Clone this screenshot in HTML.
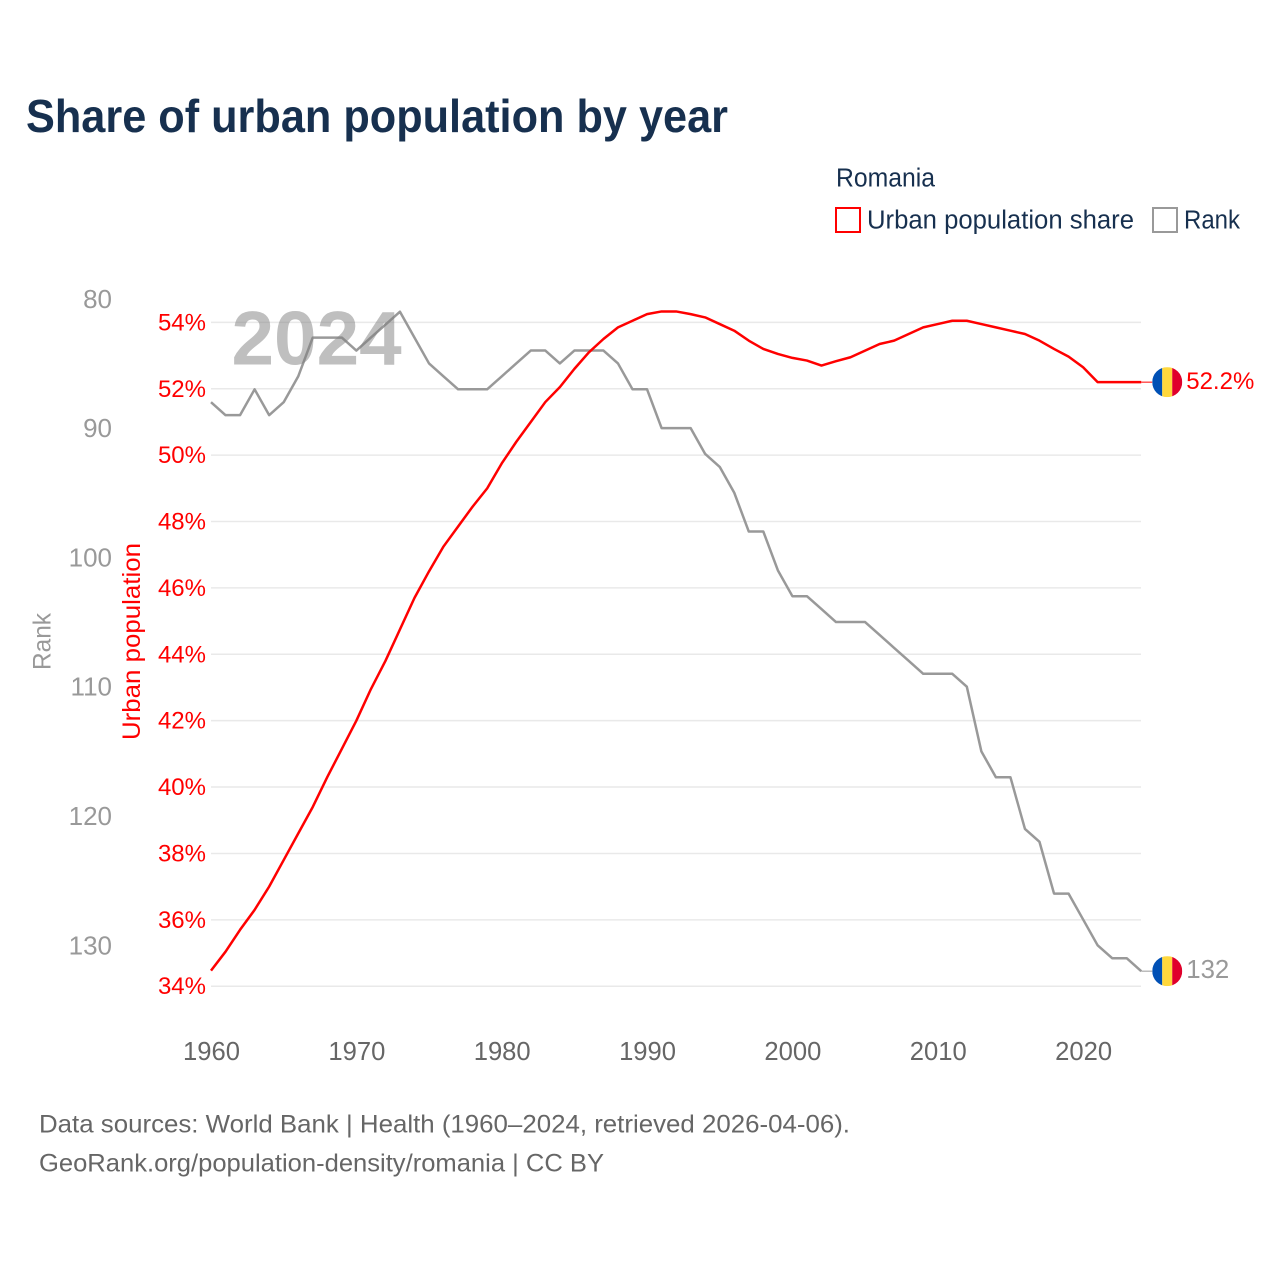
<!DOCTYPE html>
<html lang="en">
<head>
<meta charset="utf-8">
<title>Share of urban population by year</title>
<style>
html,body{margin:0;padding:0;background:#fff;}
svg{display:block;font-family:"Liberation Sans",Arial,sans-serif;}
</style>
</head>
<body>
<svg id="chart" xmlns="http://www.w3.org/2000/svg" width="1280" height="1280" viewBox="0 0 1280 1280">
  <rect x="0" y="0" width="1280" height="1280" fill="#ffffff"/>
  <text x="26" y="132" font-size="46" font-weight="700" fill="#17304f" textLength="702" lengthAdjust="spacingAndGlyphs">Share of urban population by year</text>

  <g>
    <text x="836" y="186.500" font-size="25.500" fill="#17304f" textLength="99" lengthAdjust="spacingAndGlyphs">Romania</text>
    <rect x="836" y="208" width="24" height="24" fill="none" stroke="#ff0000" stroke-width="2"/>
    <text x="867" y="228.500" font-size="25.500" fill="#17304f" textLength="267" lengthAdjust="spacingAndGlyphs">Urban population share</text>
    <rect x="1153" y="208" width="24" height="24" fill="none" stroke="#999999" stroke-width="2"/>
    <text x="1184" y="228.500" font-size="25.500" fill="#17304f" textLength="56" lengthAdjust="spacingAndGlyphs">Rank</text>
  </g>

  <g id="grid"></g>
  <g id="share-ticks"></g>
  <g id="rank-ticks"></g>
  <g id="year-ticks"></g>

  <text transform="translate(50.500,641.500) rotate(-90)" text-anchor="middle" font-size="25" fill="#999999" textLength="57" lengthAdjust="spacingAndGlyphs">Rank</text>
  <text transform="translate(140,641.500) rotate(-90)" text-anchor="middle" font-size="25" fill="#ff0000" textLength="197" lengthAdjust="spacingAndGlyphs">Urban population</text>

  <g id="series"></g>

  <text x="231.500" y="364.500" font-size="76.500" font-weight="700" fill="#808080" fill-opacity="0.5">2024</text>

  <g id="end-markers"></g>

  <text x="39" y="1132.500" font-size="25" fill="#666666" textLength="811" lengthAdjust="spacingAndGlyphs">Data sources: World Bank | Health (1960–2024, retrieved 2026-04-06).</text>
  <text x="39" y="1171.500" font-size="25" fill="#666666" textLength="565" lengthAdjust="spacingAndGlyphs">GeoRank.org/population-density/romania | CC BY</text>
</svg>
<script>
const years = [1960,1961,1962,1963,1964,1965,1966,1967,1968,1969,1970,1971,1972,1973,1974,1975,1976,1977,1978,1979,1980,1981,1982,1983,1984,1985,1986,1987,1988,1989,1990,1991,1992,1993,1994,1995,1996,1997,1998,1999,2000,2001,2002,2003,2004,2005,2006,2007,2008,2009,2010,2011,2012,2013,2014,2015,2016,2017,2018,2019,2020,2021,2022,2023,2024];
const urbanShare = [34.47,35.04,35.7,36.3,37.0,37.8,38.6,39.4,40.3,41.15,42.0,42.95,43.8,44.75,45.7,46.5,47.25,47.85,48.45,49.0,49.75,50.4,51.0,51.6,52.05,52.6,53.1,53.5,53.85,54.05,54.25,54.33,54.33,54.25,54.15,53.95,53.75,53.45,53.2,53.05,52.93,52.85,52.7,52.83,52.95,53.15,53.35,53.45,53.65,53.85,53.95,54.05,54.05,53.95,53.85,53.75,53.65,53.45,53.2,52.97,52.65,52.2,52.2,52.2,52.2];
const rank = [88,89,89,87,89,88,86,83,83,83,84,83,82,81,83,85,86,87,87,87,86,85,84,84,85,84,84,84,85,87,87,90,90,90,92,93,95,98,98,101,103,103,104,105,105,105,106,107,108,109,109,109,110,115,117,117,121,122,126,126,128,130,131,131,132];
const shareTicks = [34,36,38,40,42,44,46,48,50,52,54];
const rankTicks = [80,90,100,110,120,130];
const yearTicks = [1960,1970,1980,1990,2000,2010,2020];

const SVG_NS = 'http://www.w3.org/2000/svg';
const xScale = function (year) { return 211 + (year - 1960) * 14.535; };
const shareScale = function (v) { return 986.2 - (v - 34) * 33.19; };
const rankScale = function (v) { return 298.8 + (v - 80) * 12.93; };

function make(tag, attrs, parent, text) {
  const el = document.createElementNS(SVG_NS, tag);
  Object.keys(attrs).forEach(function (k) { el.setAttribute(k, attrs[k]); });
  if (text !== undefined) el.textContent = text;
  parent.appendChild(el);
  return el;
}

const gridGroup = document.getElementById('grid');
const shareGroup = document.getElementById('share-ticks');
const rankGroup = document.getElementById('rank-ticks');
const yearGroup = document.getElementById('year-ticks');
const seriesGroup = document.getElementById('series');
const markerGroup = document.getElementById('end-markers');

shareTicks.forEach(function (t) {
  const y = shareScale(t);
  const line = make('line', {x1: 211, x2: 1141, y1: y, y2: y, stroke: '#e9e9e9', 'stroke-width': 1.5}, gridGroup);
  
  
  const label = make('text', {x: 206, y: y + 8, 'text-anchor': 'end', 'font-size': 24, fill: '#ff0000'}, shareGroup, t + '%');
  
  
});

rankTicks.forEach(function (t) {
  const label = make('text', {x: 112, y: rankScale(t) + 9, 'text-anchor': 'end', 'font-size': 26, fill: '#999999'}, rankGroup, String(t));
  
  
});

yearTicks.forEach(function (t) {
  const label = make('text', {x: xScale(t) + 0.5, y: 1060, 'text-anchor': 'middle', 'font-size': 25.6, fill: '#666666'}, yearGroup, String(t));
  
  
});

function linePoints(values, scale) {
  return values.map(function (v, i) {
    return xScale(years[i]).toFixed(2) + ',' + scale(v).toFixed(2);
  }).join(' ');
}

const rankLine = make('polyline', {points: linePoints(rank, rankScale), fill: 'none', stroke: '#999999', 'stroke-width': 2.5, 'stroke-linejoin': 'round'}, seriesGroup);



const shareLine = make('polyline', {points: linePoints(urbanShare, shareScale), fill: 'none', stroke: '#ff0000', 'stroke-width': 2.5, 'stroke-linejoin': 'round'}, seriesGroup);



function drawMarker(y, color, labelText, kind, fontSize) {
  const endX = xScale(years[years.length - 1]);
  const cx = endX + 26;
  const r = 15;
  const connector = make('line', {x1: endX, x2: cx - r, y1: y, y2: y, stroke: color, 'stroke-width': 1}, markerGroup);
  
  
  const flag = make('g', {}, markerGroup);
  
  
  const clipId = 'clip-' + kind;
  const clip = make('clipPath', {id: clipId}, flag);
  make('circle', {cx: cx, cy: y, r: r}, clip);
  make('rect', {x: cx - r, y: y - r, width: 10, height: 2 * r, fill: '#0050b5', 'clip-path': 'url(#' + clipId + ')'}, flag);
  make('rect', {x: cx - r + 10, y: y - r, width: 10, height: 2 * r, fill: '#ffd83d', 'clip-path': 'url(#' + clipId + ')'}, flag);
  make('rect', {x: cx - r + 20, y: y - r, width: 10, height: 2 * r, fill: '#e0002b', 'clip-path': 'url(#' + clipId + ')'}, flag);
  const label = make('text', {x: cx + 19, y: y + 7, 'font-size': fontSize, fill: color}, markerGroup, labelText);
  
  
}

const lastShare = urbanShare[urbanShare.length - 1];
const lastRank = rank[rank.length - 1];
drawMarker(shareScale(lastShare), '#ff0000', lastShare.toFixed(1) + '%', 'urban-share', 24);
drawMarker(rankScale(lastRank), '#999999', String(lastRank), 'rank', 25.8);
</script>
</body>
</html>
